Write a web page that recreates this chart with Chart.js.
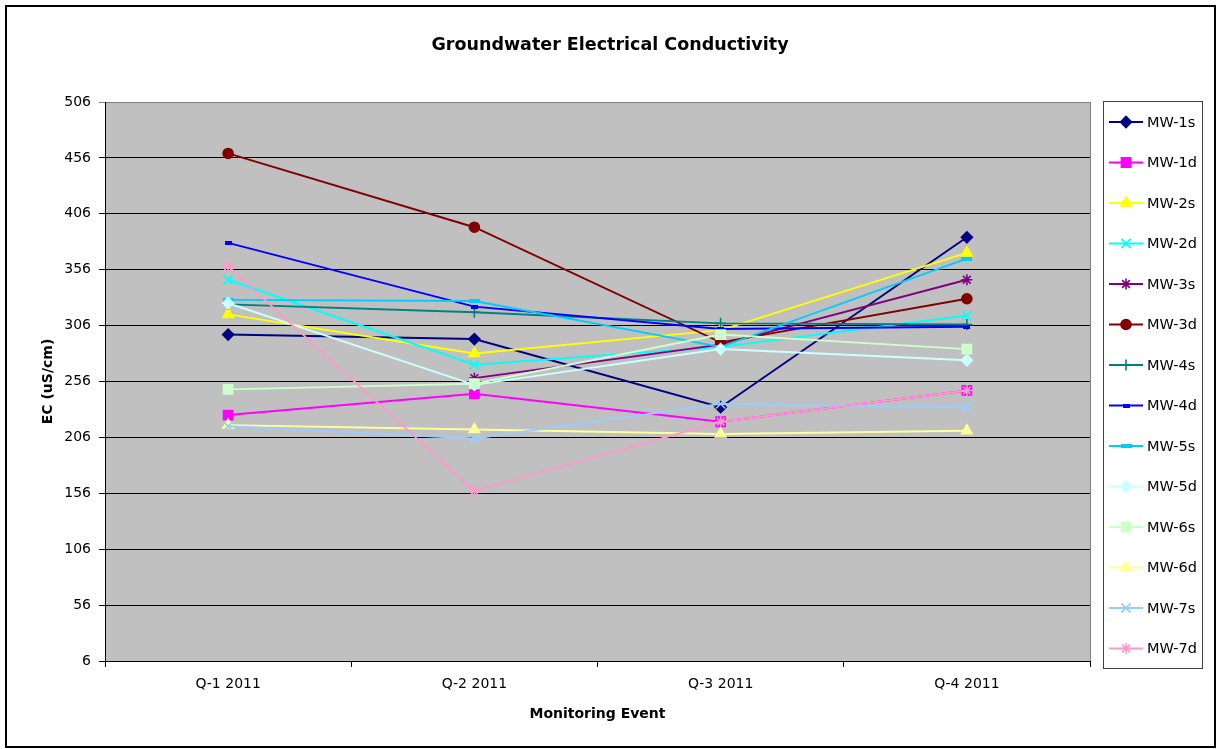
<!DOCTYPE html>
<html>
<head>
<meta charset="utf-8">
<title>Groundwater Electrical Conductivity</title>
<script src="https://cdn.jsdelivr.net/npm/chart.js@4/dist/chart.umd.min.js"></script>
<style>
  html, body { margin: 0; padding: 0; background: #fff; }
  canvas { display: block; }
</style>
</head>
<body>
<canvas id="ec" width="1223" height="749"></canvas>
<script>
// Monitoring events (x categories)
const events = ['Q-1 2011', 'Q-2 2011', 'Q-3 2011', 'Q-4 2011'];

// Y axis tick values (uS/cm)
const yTicks = [6, 56, 106, 156, 206, 256, 306, 356, 406, 456, 506];

// Well names
const wells = ['MW-1s', 'MW-1d', 'MW-2s', 'MW-2d', 'MW-3s', 'MW-3d', 'MW-4s',
               'MW-4d', 'MW-5s', 'MW-5d', 'MW-6s', 'MW-6d', 'MW-7s', 'MW-7d'];

// EC readings per well, one value per monitoring event
const mw1s = [298, 294, 233, 385];
const mw1d = [226, 245, 220, 248];
const mw2s = [316, 281, 302, 371];
const mw2d = [347, 271, 287, 315];
const mw3s = [null, 259, 289, 347];
const mw3d = [460, 394, 291, 330];
const mw4s = [325, 318, 308, 307];
const mw4d = [380, 323, 303, 305];
const mw5s = [329, 328, 287, 366];
const mw5d = [326, 253, 285, 275];
const mw6s = [249, 254, 298, 285];
const mw6d = [217, 213, 209, 212];
const mw7s = [216, 205, 236, 233];
const mw7d = [359, 158, 220, 248];

const series = [mw1s, mw1d, mw2s, mw2d, mw3s, mw3d, mw4s,
                mw4d, mw5s, mw5d, mw6s, mw6d, mw7s, mw7d];

// Small bar-shaped marker images for the "dash" style wells
function dashMarker(w, h, color) {
  const c = document.createElement('canvas');
  c.width = w; c.height = h;
  const g = c.getContext('2d');
  g.fillStyle = color;
  g.fillRect(0, 0, w, h);
  return c;
}

// Line colour and marker for each well
const styles = [
  { color: '#000080', point: 'rectRot',  r: 5.5 },
  { color: '#FF00FF', point: 'rect',     r: 6.5 },
  { color: '#FFFF00', point: 'triangle', r: 6 },
  { color: '#00FFFF', point: 'crossRot', r: 6.5 },
  { color: '#800080', point: 'star',     r: 5.5 },
  { color: '#800000', point: 'circle',   r: 5 },
  { color: '#008080', point: 'cross',    r: 5.5 },
  { color: '#0000FF', point: dashMarker(7, 4, '#0000FF'),  r: 4 },
  { color: '#00CCFF', point: dashMarker(11, 4, '#00CCFF'), r: 5 },
  { color: '#CCFFFF', point: 'rectRot',  r: 5.5 },
  { color: '#CCFFCC', point: 'rect',     r: 6.5 },
  { color: '#FFFF99', point: 'triangle', r: 6 },
  { color: '#99CCFF', point: 'crossRot', r: 6.5 },
  { color: '#FF99CC', point: 'star',     r: 5.5 }
];

const FONT = 'DejaVu Sans';
Chart.defaults.font.family = FONT;
Chart.defaults.color = '#000';

const datasets = wells.map((name, i) => ({
  label: name,
  data: series[i],
  borderColor: styles[i].color,
  backgroundColor: styles[i].color,
  borderWidth: 1.9,
  pointStyle: styles[i].point,
  pointRadius: styles[i].r,
  pointHoverRadius: styles[i].r,
  pointBackgroundColor: styles[i].color,
  pointBorderColor: styles[i].color,
  pointBorderWidth: 1.6,
  tension: 0,
  spanGaps: false,
  order: wells.length - i   // later wells drawn on top
}));

// Gray plot background, frame, title and outer border
const framePlugin = {
  id: 'frame',
  beforeDraw(chart) {
    const { ctx, chartArea: a } = chart;
    ctx.save();
    ctx.fillStyle = '#fff';
    ctx.fillRect(0, 0, chart.width, chart.height);
    ctx.fillStyle = '#C0C0C0';
    ctx.fillRect(a.left, a.top, a.right - a.left, a.bottom - a.top);
    ctx.restore();
  },
  beforeDatasetsDraw(chart) {
    const { ctx, chartArea: a } = chart;
    ctx.save();
    ctx.strokeStyle = '#808080';
    ctx.lineWidth = 1;
    ctx.beginPath();
    ctx.moveTo(Math.round(a.right) + 0.5, a.top);
    ctx.lineTo(Math.round(a.right) + 0.5, a.bottom);
    ctx.stroke();
    ctx.restore();
  },
  afterDraw(chart) {
    const { ctx } = chart;
    ctx.save();
    // chart title
    ctx.fillStyle = '#000';
    ctx.font = 'bold 17.5px "' + FONT + '"';
    ctx.textAlign = 'center';
    ctx.textBaseline = 'middle';
    ctx.fillText('Groundwater Electrical Conductivity', 610, 45.5);
    // outer border
    ctx.strokeStyle = '#000';
    ctx.lineWidth = 2;
    ctx.strokeRect(6, 6, 1209, 741);
    ctx.restore();
  }
};

// Boxed legend on the right: line sample with marker, then the well name
const legendPlugin = {
  id: 'wellLegend',
  afterDraw(chart) {
    const { ctx } = chart;
    const box = { x: 1103.5, y: 101.5, w: 99, h: 567 };
    ctx.save();
    ctx.fillStyle = '#fff';
    ctx.fillRect(box.x, box.y, box.w, box.h);
    ctx.strokeStyle = '#404040';
    ctx.lineWidth = 1;
    ctx.strokeRect(box.x, box.y, box.w, box.h);
    ctx.font = '14.5px "' + FONT + '"';
    ctx.textBaseline = 'middle';
    ctx.textAlign = 'left';
    chart.data.datasets.forEach((ds, i) => {
      const y = 122 + i * 40.5;
      ctx.strokeStyle = ds.borderColor;
      ctx.lineWidth = ds.borderWidth;
      ctx.beginPath();
      ctx.moveTo(1109, y);
      ctx.lineTo(1143, y);
      ctx.stroke();
      ctx.fillStyle = ds.pointBackgroundColor;
      ctx.strokeStyle = ds.pointBorderColor;
      ctx.lineWidth = ds.pointBorderWidth;
      Chart.helpers.drawPoint(ctx, {
        pointStyle: ds.pointStyle,
        radius: ds.pointRadius,
        rotation: 0,
        borderWidth: ds.pointBorderWidth
      }, 1126, y);
      ctx.fillStyle = '#000';
      ctx.fillText(ds.label, 1147, y + 1);
    });
    ctx.restore();
  }
};

new Chart(document.getElementById('ec'), {
  type: 'line',
  data: { labels: events, datasets },
  options: {
    responsive: false,
    animation: false,
    events: [],
    layout: { padding: { top: 102, left: 6, right: 133, bottom: 0 } },
    plugins: {
      legend: { display: false },
      title: { display: false },
      tooltip: { enabled: false }
    },
    scales: {
      x: {
        type: 'category',
        offset: true,
        afterFit(scale) { scale.height = 88; },
        grid: {
          offset: true,
          drawOnChartArea: false,
          drawTicks: true,
          tickLength: 6,
          color: '#000'
        },
        border: { display: true, color: '#000', width: 1 },
        ticks: { font: { size: 14 }, color: '#000', padding: 9, maxRotation: 0 },
        title: {
          display: true,
          text: 'Monitoring Event',
          font: { size: 14, weight: 'bold' },
          color: '#000',
          padding: { top: 0, bottom: 26 }
        }
      },
      y: {
        min: yTicks[0],
        max: yTicks[yTicks.length - 1],
        afterFit(scale) { scale.width = 99; },
        afterBuildTicks(scale) { scale.ticks = yTicks.map(v => ({ value: v })); },
        grid: {
          color: ctx => (ctx.tick && ctx.tick.value === yTicks[yTicks.length - 1]) ? '#808080' : '#000',
          lineWidth: 1,
          drawTicks: true,
          tickLength: 6
        },
        border: { display: true, color: '#000', width: 1 },
        ticks: { font: { size: 14 }, color: '#000', padding: 8 },
        title: {
          display: true,
          text: 'EC (uS/cm)',
          font: { size: 14, weight: 'bold' },
          color: '#000',
          padding: { top: 34, bottom: 0 }
        }
      }
    }
  },
  plugins: [framePlugin, legendPlugin]
});
</script>
</body>
</html>
